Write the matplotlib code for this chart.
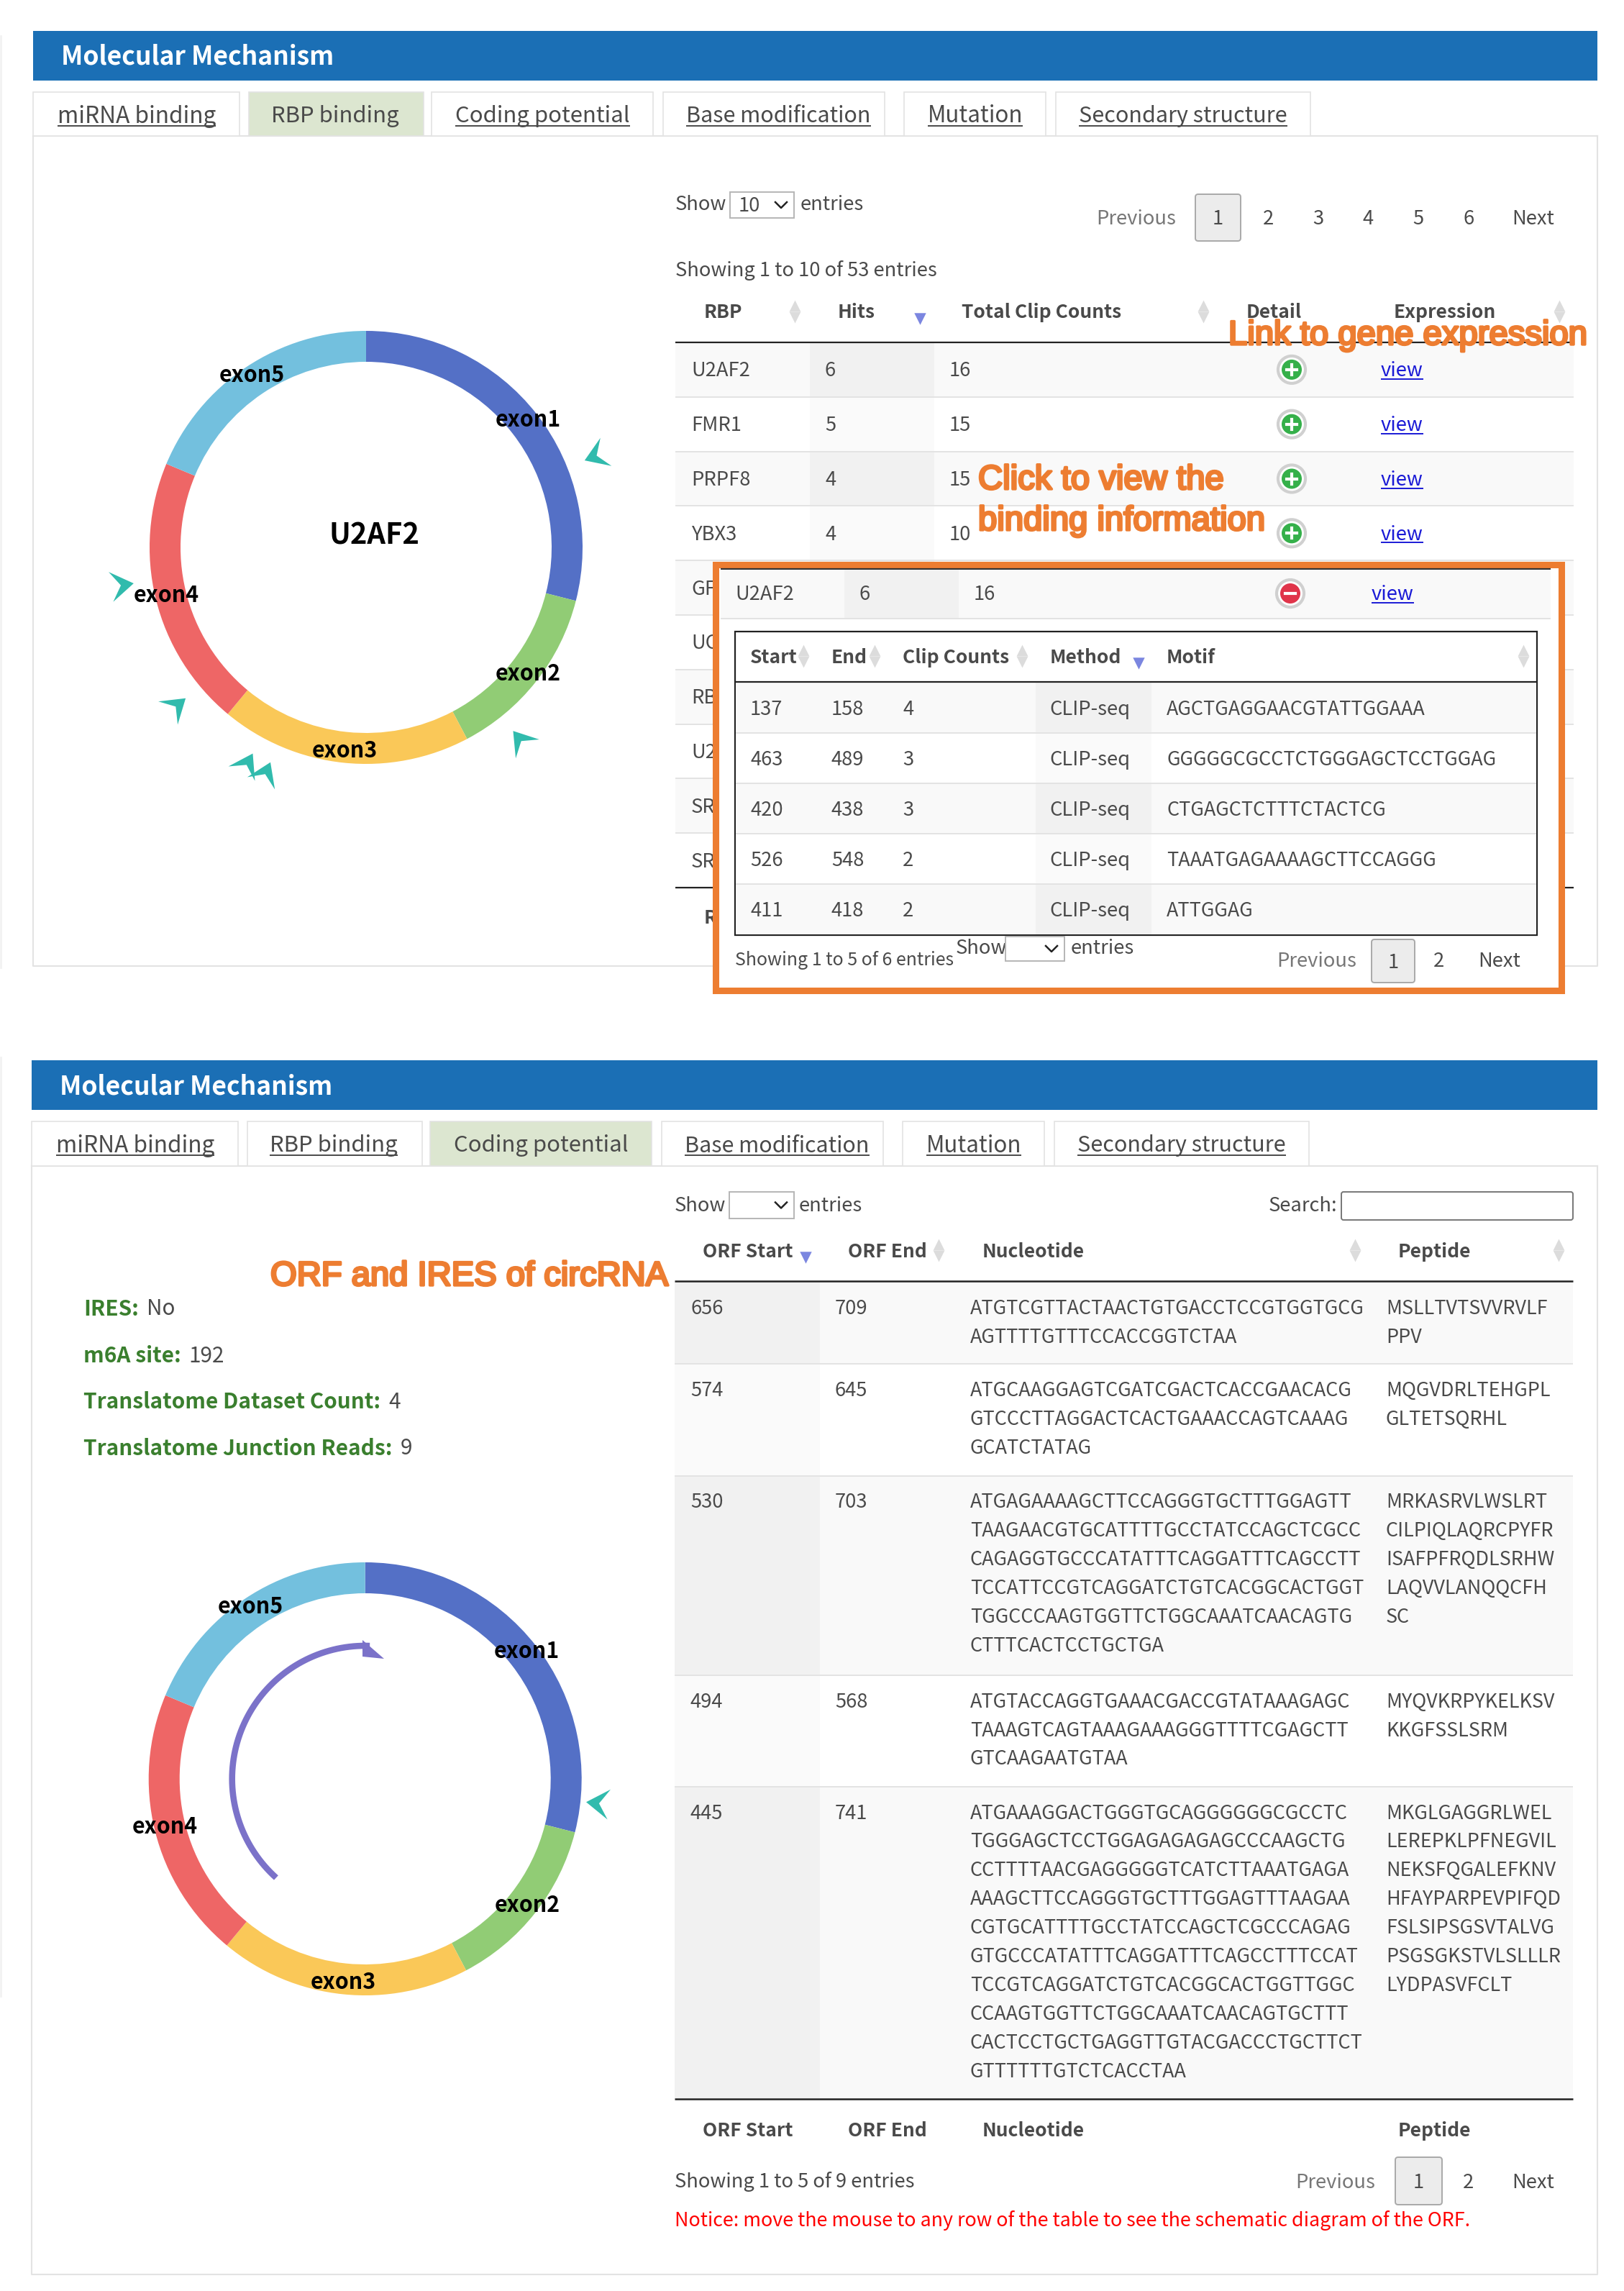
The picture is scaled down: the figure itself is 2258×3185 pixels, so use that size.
import numpy as np
import matplotlib
matplotlib.use('Agg')
import matplotlib.pyplot as plt
from matplotlib.patches import Rectangle, Polygon, Circle, FancyBboxPatch
import matplotlib.patheffects as pe

plt.rcParams['font.family'] = ['Noto Sans CJK SC', 'DejaVu Sans']

# ---------- data ----------
exon_names = ['exon1', 'exon2', 'exon3', 'exon4', 'exon5']
exon_sizes = [104.3, 47.9, 67.5, 73.0, 67.3]
exon_colors = ['#5470c6', '#91cc75', '#fac858', '#ee6666', '#73c0de']
exon_label_offsets = [(225, -179), (225, 174), (-30, 281), (-278, 65), (-159, -241)]
rbp_site_angles = [68.3, 261.2, 230.1, 208.8, 204.0, 141.3]
ires_site_angles = [96.0]
orf_arc_angles = [222.0, 362.0]

tabs = ['miRNA binding', 'RBP binding', 'Coding potential', 'Base modification', 'Mutation', 'Secondary structure']
tab_edges = [(46, 333), (346, 589), (600, 908), (922, 1230), (1257, 1454), (1468, 1822)]
tab_text_centers = [190, 466, 754.5, 1082.5, 1356, 1645]
tab_text_widths = [220, 177, 242, 256, 132, 289]

rbp_names = ['U2AF2', 'FMR1', 'PRPF8', 'YBX3', 'GF', 'UC', 'RB', 'U2', 'SR', 'SR']
rbp_hits = ['6', '5', '4', '4']
rbp_clips = ['16', '15', '15', '10']

site_start = ['137', '463', '420', '526', '411']
site_end = ['158', '489', '438', '548', '418']
site_counts = ['4', '3', '3', '2', '2']
site_motif = ['AGCTGAGGAACGTATTGGAAA', 'GGGGGCGCCTCTGGGAGCTCCTGGAG', 'CTGAGCTCTTTCTACTCG',
              'TAAATGAGAAAAGCTTCCAGGG', 'ATTGGAG']

orf_start = ['656', '574', '530', '494', '445']
orf_end = ['709', '645', '703', '568', '741']
orf_nt = [
    ['ATGTCGTTACTAACTGTGACCTCCGTGGTGCG', 'AGTTTTGTTTCCACCGGTCTAA'],
    ['ATGCAAGGAGTCGATCGACTCACCGAACACG', 'GTCCCTTAGGACTCACTGAAACCAGTCAAAG', 'GCATCTATAG'],
    ['ATGAGAAAAGCTTCCAGGGTGCTTTGGAGTT', 'TAAGAACGTGCATTTTGCCTATCCAGCTCGCC',
     'CAGAGGTGCCCATATTTCAGGATTTCAGCCTT', 'TCCATTCCGTCAGGATCTGTCACGGCACTGGT',
     'TGGCCCAAGTGGTTCTGGCAAATCAACAGTG', 'CTTTCACTCCTGCTGA'],
    ['ATGTACCAGGTGAAACGACCGTATAAAGAGC', 'TAAAGTCAGTAAAGAAAGGGTTTTCGAGCTT', 'GTCAAGAATGTAA'],
    ['ATGAAAGGACTGGGTGCAGGGGGGCGCCTC', 'TGGGAGCTCCTGGAGAGAGAGCCCAAGCTG',
     'CCTTTTAACGAGGGGGTCATCTTAAATGAGA', 'AAAGCTTCCAGGGTGCTTTGGAGTTTAAGAA',
     'CGTGCATTTTGCCTATCCAGCTCGCCCAGAG', 'GTGCCCATATTTCAGGATTTCAGCCTTTCCAT',
     'TCCGTCAGGATCTGTCACGGCACTGGTTGGC', 'CCAAGTGGTTCTGGCAAATCAACAGTGCTTT',
     'CACTCCTGCTGAGGTTGTACGACCCTGCTTCT', 'GTTTTTTGTCTCACCTAA'],
]
orf_pep = [
    ['MSLLTVTSVVRVLF', 'PPV'],
    ['MQGVDRLTEHGPL', 'GLTETSQRHL'],
    ['MRKASRVLWSLRT', 'CILPIQLAQRCPYFR', 'ISAFPFRQDLSRHW', 'LAQVVLANQQCFH', 'SC'],
    ['MYQVKRPYKELKSV', 'KKGFSSLSRM'],
    ['MKGLGAGGRLWEL', 'LEREPKLPFNEGVIL', 'NEKSFQGALEFKNV', 'HFAYPARPEVPIFQD',
     'FSLSIPSGSVTALVG', 'PSGSGKSTVLSLLLR', 'LYDPASVFCLT'],
]
info_keys = ['IRES:', 'm6A site:', 'Translatome Dataset Count:', 'Translatome Junction Reads:']
info_vals = ['No', '192', '4', '9']

# ---------- canvas ----------
W, H = 2258, 3185
fig = plt.figure(figsize=(W / 100, H / 100), dpi=100, facecolor='white')
ax = fig.add_axes([0, 0, 1, 1], zorder=2)
ax.set_xlim(0, W)
ax.set_ylim(H, 0)
ax.axis('off')
rend = fig.canvas.get_renderer()

GREY = '#4a4a4a'
BLUE = '#1b6fb5'
ORANGE = '#ed7d31'
FS = 19.7
BOLD = 19.0
SEQ = 19.4
LINE = '#e3e3e3'
RIGHT = 2221


def T(x, y, s, fs=FS, color=GREY, ha='left', weight='normal', z=6, **kw):
    return ax.text(x, y + 2, s, fontsize=fs, color=color, ha=ha, va='center', fontweight=weight, zorder=z, **kw)


def fit(t, width):
    bb = t.get_window_extent(rend)
    t.set_fontsize(t.get_fontsize() * width / bb.width)
    return t


def U(x, y, s, color=GREY, fs=FS, ha='left', off=13, z=6, width=None):
    t = T(x, y, s, fs=fs, color=color, ha=ha, z=z)
    if width:
        fit(t, width)
    bb = t.get_window_extent(rend)
    ax.plot([bb.x0, bb.x1], [y + off, y + off], color=color, lw=1.4, zorder=z, solid_capstyle='butt')
    return t


def R(x0, y0, x1, y1, fc='none', ec='none', lw=0, z=1):
    ax.add_patch(Rectangle((x0, y0), x1 - x0, y1 - y0, fc=fc, ec=ec, lw=lw, zorder=z))


def H_(x0, x1, y, color=LINE, lw=1.4, z=3):
    ax.plot([x0, x1], [y, y], color=color, lw=lw, zorder=z, solid_capstyle='butt')


def sort_icon(x, y, active=False, z=6):
    if active:
        ax.scatter([x], [y + 10], marker='v', s=140, color='#7b86e0', lw=0, zorder=z)
    else:
        ax.scatter([x], [y - 8], marker='^', s=130, color='#dcdcdc', lw=0, zorder=z)
        ax.scatter([x], [y + 8], marker='v', s=130, color='#dcdcdc', lw=0, zorder=z)


def select(x0, x1, y0, y1, s='', z=6):
    R(x0, y0, x1, y1, fc='white', ec='#b5b5b5', lw=1.4, z=z)
    if s:
        T(x0 + 12, (y0 + y1) / 2, s, z=z + 1)
    cx, cy = x1 - 18, (y0 + y1) / 2
    ax.plot([cx - 8, cx, cx + 8], [cy - 4, cy + 4, cy - 4], color='#222222', lw=1.8, zorder=z + 1)


def button(x0, x1, y0, y1, s, z=6):
    ax.add_patch(FancyBboxPatch((x0 + 3, y0 + 3), x1 - x0 - 6, y1 - y0 - 6, boxstyle='round,pad=3,rounding_size=4',
                                fc='#ececec', ec='#a9a9a9', lw=1.4, zorder=z))
    T((x0 + x1) / 2, (y0 + y1) / 2, s, ha='center', z=z + 1)


def polar(cx, cy, ang, r):
    a = np.radians(ang)
    return cx + r * np.sin(a), cy - r * np.cos(a)


def site(cx, cy, ang, r):
    a = np.radians(ang)
    ox, oy = np.sin(a), -np.cos(a)
    tx, ty = np.cos(a), np.sin(a)
    bx, by = cx + r * ox, cy + r * oy
    pts = [(bx, by),
           (bx + 32 * ox + 21 * tx, by + 32 * oy + 21 * ty),
           (bx + 18 * ox, by + 18 * oy),
           (bx + 32 * ox - 21 * tx, by + 32 * oy - 21 * ty)]
    ax.add_patch(Polygon(pts, closed=True, fc='#31bbad', ec='none', zorder=4))


def ring(cx, cy, r=301, w=43):
    pad = 1.05
    a = fig.add_axes([(cx - r * pad) / W, 1 - (cy + r * pad) / H, 2 * r * pad / W, 2 * r * pad / H], zorder=1)
    a.pie(exon_sizes, colors=exon_colors, startangle=90, counterclock=False, radius=1,
          wedgeprops=dict(width=w / r, linewidth=0))
    a.set_xlim(-pad, pad)
    a.set_ylim(-pad, pad)
    a.set_aspect('equal')
    a.axis('off')
    for n, (dx, dy) in zip(exon_names, exon_label_offsets):
        fit(T(cx + dx, cy + dy, n, color='black', ha='center', weight='bold', z=7), 91)


def frame(bar_x, y_bar0, y_bar1, y_tab0, y_tab1, y_bot, active, dx):
    R(bar_x, y_bar0, RIGHT, y_bar1, fc=BLUE, z=2)
    fit(T(bar_x + 39, (y_bar0 + y_bar1) / 2, 'Molecular Mechanism', color='white', weight='bold', fs=24), 380)
    ax.plot([bar_x, bar_x, RIGHT, RIGHT], [y_tab1, y_bot, y_bot, y_tab1], color=LINE, lw=1.5, zorder=2)
    ax.plot([bar_x, RIGHT], [y_tab1, y_tab1], color=LINE, lw=1.5, zorder=2)
    for i, (name, (a, b), tx, tw) in enumerate(zip(tabs, tab_edges, tab_text_centers, tab_text_widths)):
        a += dx
        b += dx
        R(a, y_tab0, b, y_tab1, fc='#dce6d0' if i == active else 'white', ec=LINE, lw=1.2, z=2)
        ym = (y_tab0 + y_tab1) / 2
        if i == active:
            fit(T(tx + dx, ym + 1, name, ha='center', fs=FS + 1), tw)
        else:
            U(tx + dx, ym + 1, name, ha='center', fs=FS + 1, off=15, width=tw)


# ---------- panel A ----------
ax.plot([1, 1], [50, 1345], color='#f2f2f2', lw=2, zorder=1)
frame(46, 43, 112, 128, 189, 1343, 1, 0)
ring(509, 761)
for ang in rbp_site_angles:
    site(509, 761, ang, 327)
fit(T(520, 743, 'U2AF2', color='black', ha='center', weight='bold', fs=31), 126)

T(939, 283, 'Show')
select(1015, 1104, 267, 303, '10')
T(1113, 283, 'entries')
T(1580, 302, 'Previous', ha='center', color='#777777')
button(1662, 1725, 270, 335, '1')
for s, x in zip('23456', [1763, 1833, 1902, 1972, 2042]):
    T(x, 302, s, ha='center')
T(2132, 302, 'Next', ha='center')
T(939, 374, 'Showing 1 to 10 of 53 entries')

for s, x in zip(['RBP', 'Hits', 'Total Clip Counts', 'Detail', 'Expression'], [979, 1165, 1337, 1733, 1938]):
    T(x, 433, s, weight='bold', fs=BOLD)
for x in [1105, 1673, 2168]:
    sort_icon(x, 433)
sort_icon(1279, 433, active=True)
H_(939, 2188, 476, color='#222222', lw=1.6)

row_h = 75.8
for i, name in enumerate(rbp_names):
    y0 = 476 + i * row_h
    R(939, y0, 2188, y0 + row_h, fc='#f9f9f9' if i % 2 == 0 else 'white', z=1)
    R(1126, y0, 1299, y0 + row_h, fc='#f1f1f1' if i % 2 == 0 else '#fafafa', z=1)
    H_(939, 2188, y0 + row_h)
    yc = y0 + row_h / 2
    T(961, yc, name)
    if i < len(rbp_hits):
        T(1147, yc, rbp_hits[i])
        T(1320, yc, rbp_clips[i])
        ax.add_patch(Circle((1796, yc), 19, fc='white', ec='#d0d0d0', lw=3, zorder=4))
        ax.add_patch(Circle((1796, yc), 14, fc='#35b04a', ec='none', zorder=5))
        ax.plot([1796 - 7, 1796 + 7], [yc, yc], color='white', lw=3, zorder=6)
        ax.plot([1796, 1796], [yc - 7, yc + 7], color='white', lw=3, zorder=6)
        U(1920, yc, 'view', color='#1a1ad6')
H_(939, 2188, 1234, color='#222222', lw=1.6)
T(979, 1275, 'RBP', weight='bold', fs=BOLD)

# overlay box (outer edge 990..2175, 780..1381)
R(994.5, 784.5, 2170.5, 1376.5, fc='white', ec=ORANGE, lw=6.5, z=10)
H_(1002, 2156, 791, color='#333333', lw=1.6, z=11)
R(1002, 792, 2156, 860, fc='#f9f9f9', z=11)
R(1174, 792, 1333, 860, fc='#f1f1f1', z=11)
H_(1002, 2156, 860, z=11)
T(1022, 825, 'U2AF2', z=12)
T(1194, 825, '6', z=12)
T(1354, 825, '16', z=12)
ax.add_patch(Circle((1794, 825), 19, fc='white', ec='#d0d0d0', lw=3, zorder=12))
ax.add_patch(Circle((1794, 825), 14, fc='#e0344a', ec='none', zorder=13))
ax.plot([1787, 1801], [825, 825], color='white', lw=3, zorder=14)
U(1907, 825, 'view', color='#1a1ad6', z=12)

R(1022, 878, 2137, 1300, fc='white', ec='#222222', lw=1.6, z=11)
for s, x in zip(['Start', 'End', 'Clip Counts', 'Method', 'Motif'], [1043, 1156, 1255, 1460, 1622]):
    T(x, 912, s, weight='bold', fs=BOLD, z=13)
for x in [1117, 1216, 1421, 2118]:
    sort_icon(x, 912, z=13)
sort_icon(1583, 912, active=True, z=13)
H_(1022, 2137, 948, color='#222222', lw=1.6, z=13)
site_edges = [949, 1019, 1089, 1159, 1229, 1299]
for i in range(5):
    y0, y1 = site_edges[i], site_edges[i + 1]
    R(1023, y0, 2136, y1, fc='#f9f9f9' if i % 2 == 0 else 'white', z=12)
    R(1440, y0, 1601, y1, fc='#f1f1f1' if i % 2 == 0 else '#fafafa', z=12)
    if i < 4:
        H_(1023, 2136, y1, z=13)
    yc = (y0 + y1) / 2
    T(1043, yc, site_start[i], z=14)
    T(1156, yc, site_end[i], z=14)
    T(1255, yc, site_counts[i], z=14)
    T(1459, yc, 'CLIP-seq', z=14)
    T(1622, yc, site_motif[i], z=14, fs=SEQ)
fit(T(1022, 1333, 'Showing 1 to 5 of 6 entries', z=14), 304)
T(1329, 1317, 'Show', z=14)
select(1398, 1480, 1302, 1336, z=14)
T(1489, 1317, 'entries', z=14)
T(1831, 1335, 'Previous', ha='center', color='#777777', z=14)
button(1907, 1967, 1306, 1366, '1', z=14)
T(2000, 1335, '2', ha='center', z=14)
T(2085, 1335, 'Next', ha='center', z=14)

halo = [pe.withStroke(linewidth=2.4, foreground=ORANGE)]
for s, x, y, w in [('Link to gene expression', 1708, 467, 498),
                   ('Click to view the', 1360, 668, 341),
                   ('binding information', 1360, 725, 398)]:
    fit(ax.text(x, y, s, color=ORANGE, family='Liberation Sans', fontsize=30, va='center', zorder=20,
                path_effects=halo), w)

# ---------- panel B ----------
ax.plot([1, 1], [1470, 2775], color='#f2f2f2', lw=2, zorder=1)
frame(44, 1474, 1543, 1559, 1621, 3162, 2, -2)
cx2, cy2 = 507.7, 2473
ring(cx2, cy2)
for ang in ires_site_angles:
    site(cx2, cy2, ang, 309)
arc = np.linspace(orf_arc_angles[0], orf_arc_angles[1], 80)
ax.plot(*polar(cx2, cy2, arc, 185), color='#7b72c9', lw=6.2, zorder=4, solid_capstyle='butt')
ax.add_patch(Polygon([(504, 2280), (534, 2306), (504, 2303)], closed=True, fc='#7b72c9', ec='none', zorder=4))

probe = fit(T(100, 100, info_keys[-1], weight='bold'), 430)
info_fs = probe.get_fontsize()
probe.remove()
for k, v, y in zip(info_keys, info_vals, [1817, 1882, 1946, 2011]):
    t = T(116, y + 1, k, color='#3a7f2e', weight='bold', fs=info_fs)
    bb = t.get_window_extent(rend)
    T(bb.x1 + 11, y + 1, v, fs=info_fs)
fit(ax.text(376, 1775, 'ORF and IRES of circRNA', color=ORANGE, family='Liberation Sans', fontsize=30,
            va='center', zorder=20, path_effects=halo), 553)

T(938, 1674, 'Show')
select(1014, 1104, 1657, 1694)
T(1111, 1674, 'entries')
T(1764, 1674, 'Search:')
ax.add_patch(FancyBboxPatch((1867, 1659), 318, 35, boxstyle='round,pad=2,rounding_size=3',
                            fc='white', ec='#777777', lw=1.4, zorder=3))
heads = ['ORF Start', 'ORF End', 'Nucleotide', 'Peptide']
head_x = [977, 1179, 1366, 1944]
for s, x in zip(heads, head_x):
    T(x, 1738, s, weight='bold', fs=BOLD)
    T(x, 2960, s, weight='bold', fs=BOLD)
for x in [1305, 1884, 2167]:
    sort_icon(x, 1738)
sort_icon(1120, 1738, active=True)
H_(938, 2187, 1781, color='#222222', lw=1.8)
orf_edges = [1782, 1896.4, 2051.5, 2328.6, 2483.6, 2917]
for i in range(5):
    y0, y1 = orf_edges[i], orf_edges[i + 1]
    R(938, y0, 2187, y1, fc='#f9f9f9' if i % 2 == 0 else 'white', z=1)
    R(938, y0, 1140, y1, fc='#f1f1f1' if i % 2 == 0 else '#fafafa', z=1)
    if i < 4:
        H_(938, 2187, y1)
    yt = y0 + 35.5
    T(960, yt, orf_start[i])
    T(1161, yt, orf_end[i])
    for j, s in enumerate(orf_nt[i]):
        T(1349, yt + j * 39.9, s, fs=SEQ)
    for j, s in enumerate(orf_pep[i]):
        T(1927, yt + j * 39.9, s, fs=SEQ)
H_(938, 2187, 2918, color='#222222', lw=1.8)
T(938, 3031, 'Showing 1 to 5 of 9 entries')
T(1857, 3032, 'Previous', ha='center', color='#777777')
button(1940, 2005, 2999, 3065, '1')
T(2041, 3032, '2', ha='center')
T(2132, 3032, 'Next', ha='center')
fit(T(938, 3085, 'Notice: move the mouse to any row of the table to see the schematic diagram of the ORF.',
      color='#ff0000'), 1107)

fig.savefig('out.png', dpi=100, facecolor='white')
